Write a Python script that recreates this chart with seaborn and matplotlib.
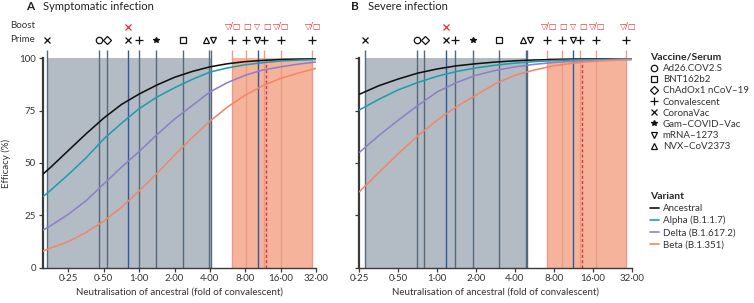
import numpy as np
import pandas as pd
import matplotlib
matplotlib.use("Agg")
import matplotlib.pyplot as plt
from matplotlib.lines import Line2D
import seaborn as sns

# ---------------- data ----------------
variants = ["Ancestral", "Alpha (B.1.1.7)", "Delta (B.1.617.2)", "Beta (B.1.351)"]
variant_colors = ["#111111", "#1f9db0", "#8d80c6", "#f08868"]

# Panel A (symptomatic) efficacy curves, read at half-doubling steps
a_fold = [0.152, 0.177, 0.25, 0.354, 0.5, 0.707, 1.0, 1.414, 2.0, 2.83, 4.0, 5.66, 8.0, 11.3, 16.0, 22.6, 32.0]
a_ancestral = [44.7, 48, 56, 64, 71.5, 78, 83, 87.3, 91, 93.8, 96, 97.5, 98.5, 99.1, 99.5, 99.7, 99.8]
a_alpha = [33.9, 37, 44.5, 52.5, 61.5, 69, 76, 81.5, 86, 90, 93.5, 95.5, 97, 98, 98.8, 99.2, 99.5]
a_delta = [17.9, 20, 25.5, 32, 40, 48, 55.5, 63.5, 71, 77.5, 84, 88.5, 92, 94.5, 96, 97.3, 98.3]
a_beta = [7.9, 9.3, 12.4, 16.8, 22.2, 28.8, 36.6, 45, 53.7, 62.2, 70, 76.8, 82.5, 87, 90.5, 93, 95.3]

# Panel B (severe) efficacy curves
b_fold = [0.25, 0.354, 0.5, 0.707, 1.0, 1.414, 2.0, 2.83, 4.0, 5.66, 8.0, 11.3, 16.0, 22.6, 32.0]
b_ancestral = [82.9, 87, 90.2, 93, 95, 96.5, 97.5, 98.3, 98.9, 99.3, 99.5, 99.7, 99.8, 99.9, 99.9]
b_alpha = [75.4, 80.5, 85, 88.5, 91.5, 93.8, 95.5, 96.8, 97.8, 98.5, 99, 99.3, 99.5, 99.7, 99.8]
b_delta = [55.1, 63.2, 70.5, 77.5, 84, 88.5, 92, 94.3, 96, 97.2, 98.1, 98.7, 99.1, 99.4, 99.6]
b_beta = [36.3, 45.5, 54.5, 63, 70.5, 77, 82.5, 88, 92, 94.5, 96.5, 97.8, 98.6, 99.1, 99.4]

# Vaccine / serum study lines
line_kind = ["prime", "prime", "prime", "blue", "prime", "prime", "prime", "prime", "prime",
             "boost", "boost", "blue", "boost", "boost", "boost"]
a_lines = [0.164, 0.459, 0.530, 0.809, 1.0, 1.39, 2.35, 3.93, 4.07, 6.13, 8.07, 10.2, 11.55, 16.0, 29.4]
b_lines = [0.275, 0.70, 0.794, 1.167, 1.384, 1.886, 3.03, 4.84, 4.98, 7.15, 9.22, 11.35, 12.7, 16.9, 29.1]
a_dashed = 12.08
b_dashed = 13.3
a_gray_span = (0.164, 4.15)
b_gray_span = (0.275, 5.07)
a_orange_span = (6.13, 29.4)
b_orange_span = (7.15, 29.1)

prime_vaccine = ["CoronaVac", "Ad26.COV2.S", "ChAdOx1 nCoV–19", "CoronaVac", "Convalescent",
                 "Gam–COVID–Vac", "BNT162b2", "NVX–CoV2373", "mRNA–1273", "Convalescent",
                 "Convalescent", "mRNA–1273", "Convalescent", "Convalescent", "Convalescent"]
a_prime_x = [0.164, 0.457, 0.53, 0.81, 1.0, 1.39, 2.35, 3.71, 4.28, 6.13, 8.07, 10.0, 11.55, 16.1, 29.4]
b_prime_x = [0.275, 0.70, 0.80, 1.167, 1.384, 1.886, 3.03, 4.6, 5.23, 7.15, 9.22, 11.2, 12.76, 16.9, 29.1]

boost_labels = ["×", "▽/□", "□", "▽", "□", "▽/□", "▽/□"]
a_boost_x = [0.81, 6.3, 8.2, 10.1, 12.2, 16.3, 30.3]
b_boost_x = [1.167, 7.38, 9.38, 11.37, 13.4, 17.3, 30.2]

legend_vaccines = ["Ad26.COV2.S", "BNT162b2", "ChAdOx1 nCoV–19", "Convalescent", "CoronaVac",
                   "Gam–COVID–Vac", "mRNA–1273", "NVX–CoV2373"]
marker_map = {"Ad26.COV2.S": "o", "BNT162b2": "s", "ChAdOx1 nCoV–19": "D", "Convalescent": "+",
              "CoronaVac": "x", "Gam–COVID–Vac": "*", "mRNA–1273": "v", "NVX–CoV2373": "^"}
marker_size = {"o": 4.6, "s": 3.8, "D": 3.6, "+": 6.2, "x": 4.4, "*": 4.4, "v": 4.8, "^": 4.8}

xticks = [0.25, 0.5, 1, 2, 4, 8, 16, 32]

# ---------------- style ----------------
sns.set_theme(style="ticks")
plt.rcParams["font.family"] = ["Lato", "DejaVu Sans"]
plt.rcParams["axes.unicode_minus"] = False

GRAY_FILL = "#b3bcc5"
ORANGE_FILL = "#f6b39c"
LINE_COLS = {"prime": "#56687b", "blue": "#2c5a9c", "boost": "#e99b86"}
SPINE = "#3a3a3a"
FS = 7

fig = plt.figure(figsize=(7.54, 3.03), dpi=100)
W, H = 754, 303
axA = fig.add_axes([43 / W, 35.5 / H, 273 / W, 209 / H])
axB = fig.add_axes([359 / W, 35.5 / H, 272.5 / W, 209 / H])

Y_LINE_TOP = 104.2
Y_PRIME = 108.9
Y_BOOST = 115.3


def draw_panel(ax, fold, curves, lines, dashed, gray_span, orange_span, prime_x, boost_x, xlim, ylabels):
    ax.set_xscale("log", base=2)
    ax.axvspan(*gray_span, color=GRAY_FILL, lw=0, zorder=0)
    ax.axvspan(*orange_span, color=ORANGE_FILL, lw=0, zorder=0)
    for x, k in zip(lines, line_kind):
        ax.vlines(x, 0, Y_LINE_TOP, colors=LINE_COLS[k], lw=1.0, clip_on=False, zorder=1)
    ax.vlines(dashed, 0, 100, colors="#e0303a", lw=1.0, linestyles=(0, (2.2, 1.6)), zorder=1.5)

    rows = []
    for v, vals in zip(variants, curves):
        for f, e in zip(fold, vals):
            rows.append({"fold": f, "efficacy": e, "variant": v})
    df = pd.DataFrame(rows)
    sns.lineplot(data=df, x="fold", y="efficacy", hue="variant", hue_order=variants,
                 palette=variant_colors, ax=ax, legend=False, lw=1.15, estimator=None,
                 sort=True, zorder=3)

    for x, vac in zip(prime_x, prime_vaccine):
        m = marker_map[vac]
        filled = m == "*"
        ax.plot([x], [Y_PRIME], marker=m, ms=marker_size[m], mew=0.9, ls="none",
                mfc="#111111" if filled else "none", mec="#111111", clip_on=False, zorder=4)
    for x, lab in zip(boost_x, boost_labels):
        if lab == "×":
            ax.plot([x], [Y_BOOST], marker="x", ms=4.4, mew=0.9, ls="none", mec="#e0303a",
                    clip_on=False, zorder=4)
        else:
            ax.text(x, Y_BOOST, lab, color="#e0303a", fontsize=5.8, ha="center", va="center",
                    family=["DejaVu Sans"], clip_on=False)

    ax.set_xlim(*xlim)
    ax.set_ylim(0, 100)
    ax.set_xticks(xticks)
    ax.set_xticklabels([f"{t:.2f}".replace(".", "·") for t in xticks])
    ax.xaxis.set_minor_locator(matplotlib.ticker.NullLocator())
    ax.set_yticks([0, 25, 50, 75, 100])
    if ylabels:
        ax.set_yticklabels(["0", "25", "50", "75", "100"])
        ax.set_ylabel("Efficacy (%)", fontsize=FS, color="#333333")
        ax.yaxis.set_label_coords(-0.118, 0.5)
    else:
        ax.set_yticklabels([])
        ax.set_ylabel("")
    ax.set_xlabel("Neutralisation of ancestral (fold of convalescent)", fontsize=FS,
                  color="#333333", labelpad=3)
    for s in ["top", "right"]:
        ax.spines[s].set_visible(False)
    ax.spines["left"].set_color(SPINE)
    ax.spines["left"].set_linewidth(1.6)
    ax.spines["bottom"].set_color(SPINE)
    ax.spines["bottom"].set_linewidth(1.0)
    ax.tick_params(axis="both", direction="out", length=3, width=0.9, color=SPINE,
                   labelsize=FS, labelcolor="#333333", pad=2)
    ax.set_facecolor("none")


draw_panel(axA, a_fold, [a_ancestral, a_alpha, a_delta, a_beta], a_lines, a_dashed,
           a_gray_span, a_orange_span, a_prime_x, a_boost_x, (0.152, 32), True)
draw_panel(axB, b_fold, [b_ancestral, b_alpha, b_delta, b_beta], b_lines, b_dashed,
           b_gray_span, b_orange_span, b_prime_x, b_boost_x, (0.248, 32), False)

# titles and row labels
fig.text(26 / W, 1 - 7 / H, "A", fontsize=8.5, fontweight="bold", va="center", ha="left", color="#222222")
fig.text(43 / W, 1 - 7 / H, "Symptomatic infection", fontsize=8, va="center", ha="left", color="#222222")
fig.text(351 / W, 1 - 7 / H, "B", fontsize=8.5, fontweight="bold", va="center", ha="left", color="#222222")
fig.text(368 / W, 1 - 7 / H, "Severe infection", fontsize=8, va="center", ha="left", color="#222222")
fig.text(10 / W, 1 - 26 / H, "Boost", fontsize=FS, va="center", ha="left", color="#333333")
fig.text(10 / W, 1 - 40 / H, "Prime", fontsize=FS, va="center", ha="left", color="#333333")

# legends
vac_handles = []
for v in legend_vaccines:
    m = marker_map[v]
    vac_handles.append(Line2D([], [], marker=m, ls="none", ms=marker_size[m], mew=0.9,
                              mfc="#111111" if m == "*" else "none", mec="#111111"))
leg1 = fig.legend(vac_handles, legend_vaccines, title="Vaccine/Serum", loc="upper left",
                  bbox_to_anchor=(650 / W, 1 - 53 / H), frameon=False, fontsize=FS,
                  title_fontproperties={"size": 7.5, "weight": "bold"}, alignment="left",
                  handlelength=0.8, handletextpad=0.5, labelspacing=0.22, borderaxespad=0,
                  borderpad=0)
var_handles = [Line2D([], [], color=c, lw=1.2) for c in variant_colors]
leg2 = fig.legend(var_handles, variants, title="Variant", loc="upper left",
                  bbox_to_anchor=(650 / W, 1 - 192 / H), frameon=False, fontsize=FS,
                  title_fontproperties={"size": 7.5, "weight": "bold"}, alignment="left",
                  handlelength=0.9, handletextpad=0.4, labelspacing=0.3, borderaxespad=0,
                  borderpad=0)
for leg in (leg1, leg2):
    for t in leg.get_texts():
        t.set_color("#333333")

fig.savefig("out.png", dpi=100)
